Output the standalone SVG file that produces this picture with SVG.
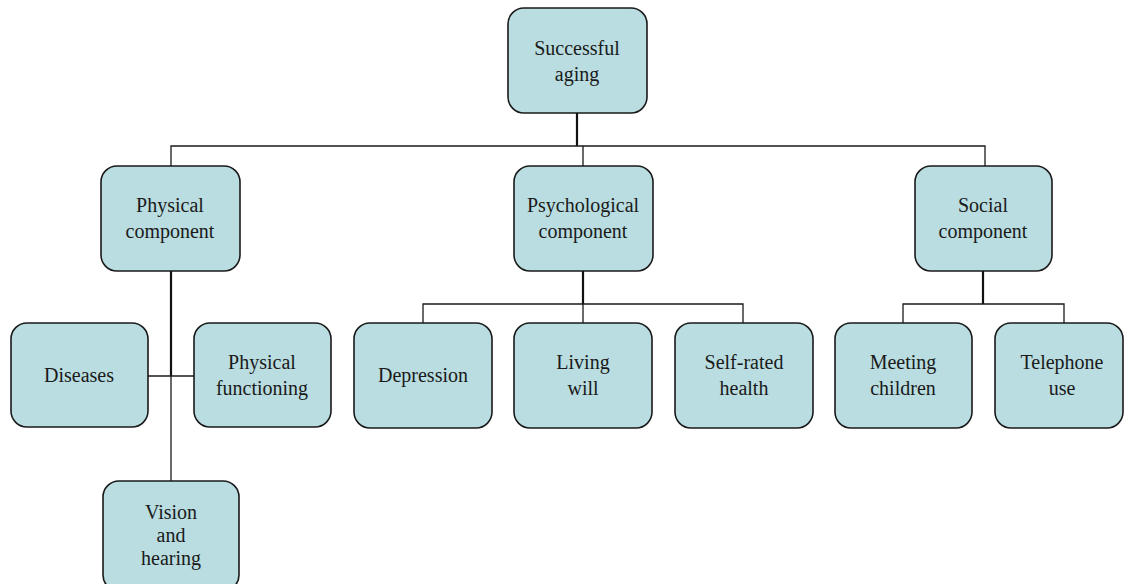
<svg xmlns="http://www.w3.org/2000/svg" width="1125" height="584" viewBox="0 0 1125 584">
<style>
.box{fill:#b9dde0;stroke:#1a1a1a;stroke-width:1.6}
.t{font-family:"Liberation Serif","Times New Roman",serif;font-size:20px;fill:#1a1a1a;text-anchor:middle}
.ln{stroke:#1a1a1a;stroke-width:1.3;fill:none}
.lt{stroke:#111;stroke-width:2.2;fill:none}
</style>
<rect width="1125" height="584" fill="#fff"/>
<g id="connectors">
<line class="lt" x1="577" y1="113" x2="577" y2="146"/>
<polyline class="ln" points="171,166 171,146 985,146 985,166"/>
<line class="ln" x1="583" y1="146" x2="583" y2="166"/>
<line class="lt" x1="171" y1="271" x2="171" y2="376"/>
<line class="ln" x1="171" y1="376" x2="171" y2="481"/>
<line class="ln" x1="148" y1="376" x2="194" y2="376"/>
<line class="lt" x1="583" y1="271" x2="583" y2="304"/>
<polyline class="ln" points="423,323 423,304 743,304 743,323"/>
<line class="ln" x1="583" y1="304" x2="583" y2="323"/>
<line class="lt" x1="983" y1="271" x2="983" y2="304"/>
<polyline class="ln" points="903,323 903,304 1064,304 1064,323"/>
</g>
<g id="successful-aging"><rect class="box" x="508" y="8" width="139" height="105" rx="16"/><text class="t" x="577" y="55">Successful</text><text class="t" x="577" y="81">aging</text></g>
<g id="physical-component"><rect class="box" x="101" y="166" width="139" height="105" rx="16"/><text class="t" x="170" y="212">Physical</text><text class="t" x="170" y="238">component</text></g>
<g id="psychological-component"><rect class="box" x="514" y="166" width="139" height="105" rx="16"/><text class="t" x="583" y="212">Psychological</text><text class="t" x="583" y="238">component</text></g>
<g id="social-component"><rect class="box" x="915" y="166" width="137" height="105" rx="16"/><text class="t" x="983" y="212">Social</text><text class="t" x="983" y="238">component</text></g>
<g id="diseases"><rect class="box" x="11" y="323" width="137" height="104" rx="16"/><text class="t" x="79" y="382">Diseases</text></g>
<g id="physical-functioning"><rect class="box" x="194" y="323" width="137" height="104" rx="16"/><text class="t" x="262" y="369">Physical</text><text class="t" x="262" y="395">functioning</text></g>
<g id="vision-and-hearing"><rect class="box" x="103" y="481" width="136" height="110" rx="16"/><text class="t" x="171" y="519">Vision</text><text class="t" x="171" y="542">and</text><text class="t" x="171" y="565">hearing</text></g>
<g id="depression"><rect class="box" x="354" y="323" width="138" height="105" rx="16"/><text class="t" x="423" y="382">Depression</text></g>
<g id="living-will"><rect class="box" x="514" y="323" width="138" height="105" rx="16"/><text class="t" x="583" y="369">Living</text><text class="t" x="583" y="395">will</text></g>
<g id="self-rated-health"><rect class="box" x="675" y="323" width="138" height="105" rx="16"/><text class="t" x="744" y="369">Self-rated</text><text class="t" x="744" y="395">health</text></g>
<g id="meeting-children"><rect class="box" x="835" y="323" width="137" height="105" rx="16"/><text class="t" x="903" y="369">Meeting</text><text class="t" x="903" y="395">children</text></g>
<g id="telephone-use"><rect class="box" x="995" y="323" width="128" height="105" rx="16"/><text class="t" x="1062" y="369">Telephone</text><text class="t" x="1062" y="395">use</text></g>
</svg>
